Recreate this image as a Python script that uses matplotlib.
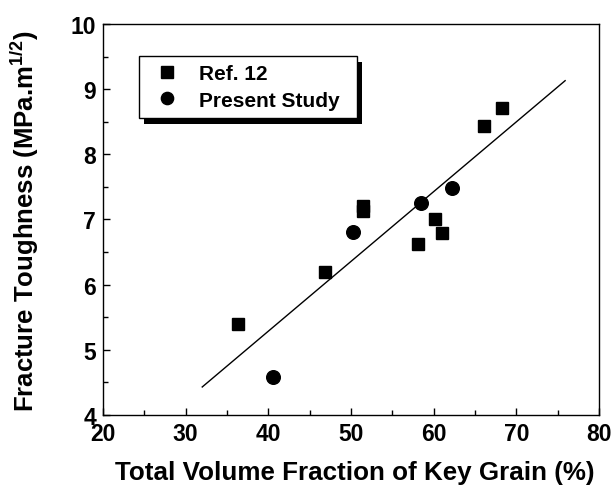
import matplotlib
matplotlib.use('Agg')
import matplotlib.pyplot as plt
from matplotlib.patches import Rectangle
from matplotlib.ticker import MultipleLocator

plt.rcParams['font.family'] = 'Liberation Sans'
plt.rcParams['font.weight'] = 'bold'
plt.rcParams['mathtext.fontset'] = 'custom'
plt.rcParams['mathtext.bf'] = 'Liberation Sans:bold'
plt.rcParams['mathtext.rm'] = 'Liberation Sans:bold'

## data
ref12_x = [36.3, 46.9, 51.4, 51.4, 58.1, 60.2, 61.0, 66.1, 68.3]
ref12_y = [5.40, 6.19, 7.21, 7.13, 6.62, 7.01, 6.79, 8.43, 8.71]
present_x = [40.6, 50.2, 58.5, 62.2]
present_y = [4.59, 6.81, 7.25, 7.49]
fit_x = [32.0, 75.9]
fit_y = [4.43, 9.13]

fig = plt.figure(figsize=(6.14, 4.89), dpi=100)
ax = fig.add_axes([0.1678, 0.1493, 0.8078, 0.7996])

ax.plot(fit_x, fit_y, color='k', linewidth=1.0, zorder=2)
ax.plot(ref12_x, ref12_y, 's', color='k', markersize=8.8, linestyle='none', label='Ref. 12', zorder=3)
ax.plot(present_x, present_y, 'o', color='k', markersize=9.8, linestyle='none', label='Present Study', zorder=3)

ax.set_xlim(20, 80)
ax.set_ylim(4, 10)
ax.xaxis.set_major_locator(MultipleLocator(10))
ax.xaxis.set_minor_locator(MultipleLocator(5))
ax.yaxis.set_major_locator(MultipleLocator(1))
ax.yaxis.set_minor_locator(MultipleLocator(0.5))
ax.tick_params(which='both', direction='in', labelsize=16.5, top=False, right=False)
ax.tick_params(which='major', length=5, width=1)
ax.tick_params(which='minor', length=3.5, width=1)
ax.tick_params(axis='x', pad=5)
ax.tick_params(axis='y', pad=5)
for s in ax.spines.values():
    s.set_linewidth(1.0)

ax.set_xlabel('Total Volume Fraction of Key Grain (%)', fontsize=18.7, fontweight='bold')
ax.set_ylabel(r'Fracture Toughness (MPa.m$^{\mathbf{1/2}}$)', fontsize=18.5, fontweight='bold')
ax.xaxis.set_label_coords(0.507, -0.115)
ax.yaxis.set_label_coords(-0.125, 0.499)

# legend box with thick offset shadow
ax.add_patch(Rectangle((0.0826, 0.7447), 0.4394, 0.1586, transform=ax.transAxes,
                       facecolor='k', edgecolor='none', zorder=4))
ax.add_patch(Rectangle((0.0726, 0.760), 0.4394, 0.158, transform=ax.transAxes,
                       facecolor='white', edgecolor='k', linewidth=1.0, zorder=5))

leg = ax.legend(loc='upper left', bbox_to_anchor=(0.0726, 0.918), borderaxespad=0,
                fontsize=15, frameon=False, handletextpad=0.6, borderpad=0.4,
                labelspacing=0.35, handlelength=1.9, markerscale=0.9)
leg.set_zorder(6)

plt.savefig('out.png', dpi=100)
